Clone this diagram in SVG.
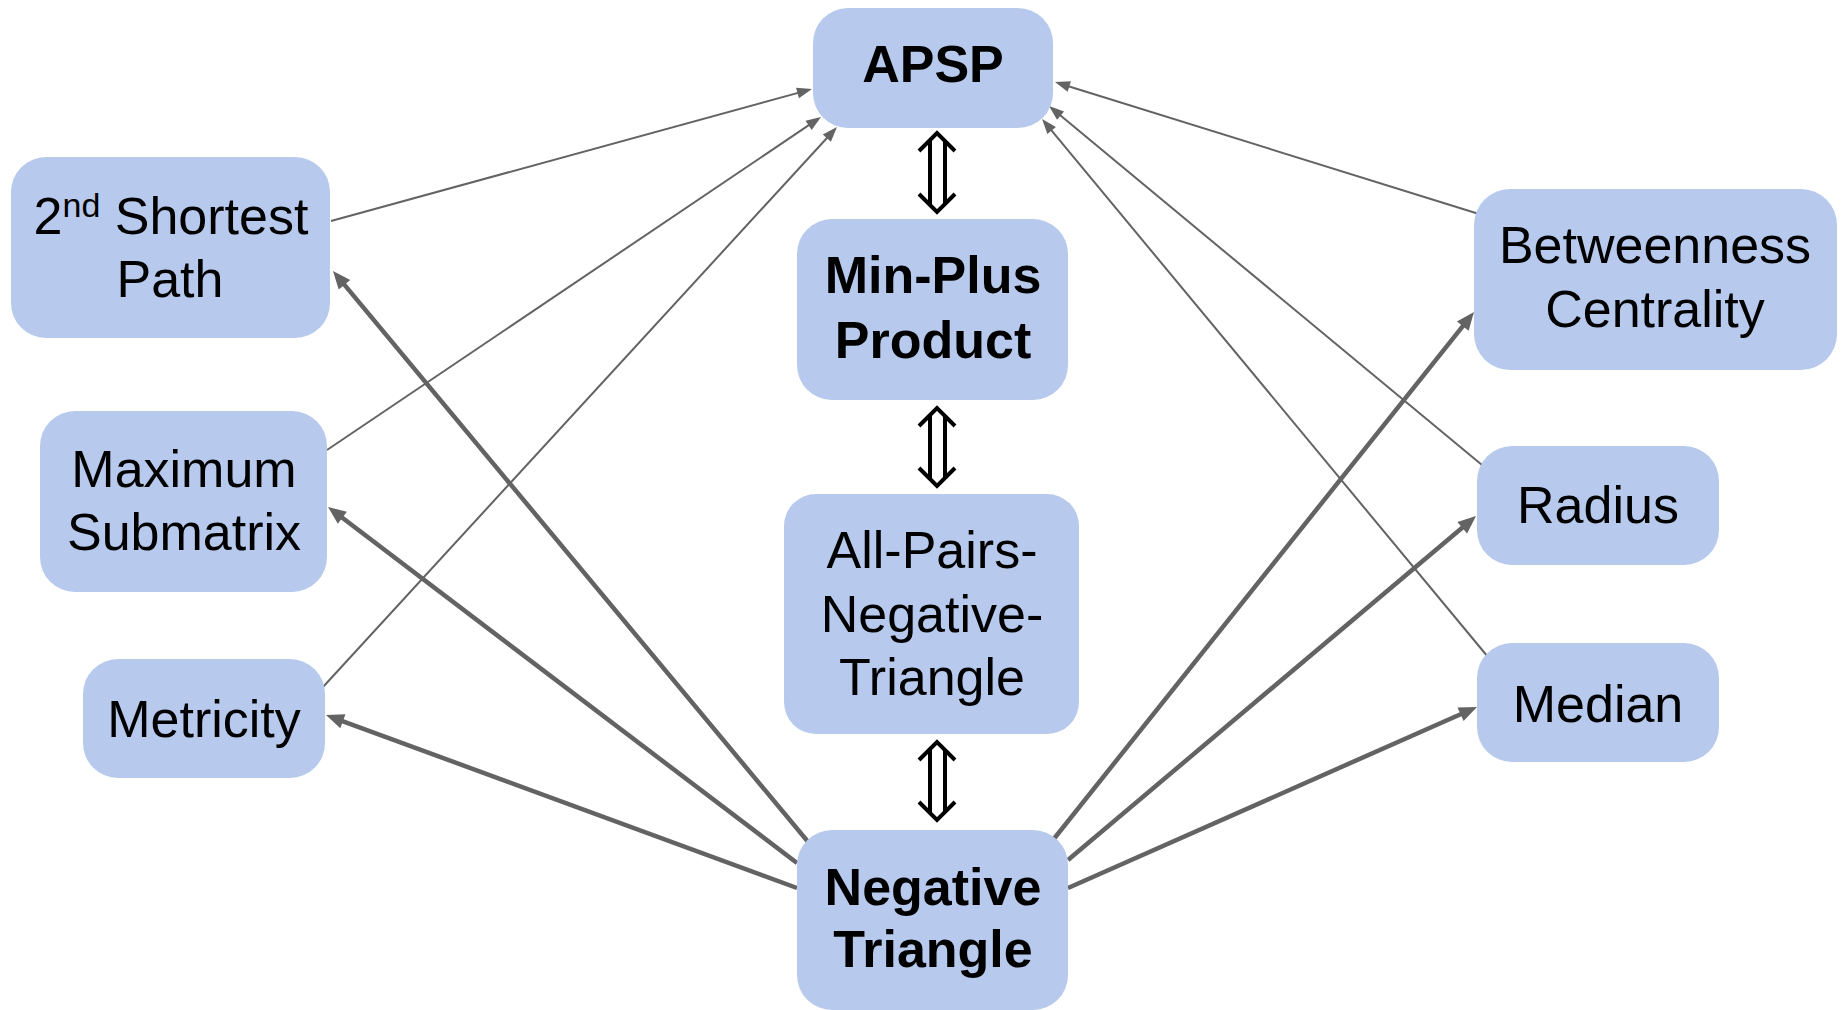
<svg xmlns="http://www.w3.org/2000/svg" width="1845" height="1010" viewBox="0 0 1845 1010">
<style>
  .box { fill: #b7caed; }
  .t { font-family: "Liberation Sans", Arial, sans-serif; font-size: 52px; fill: #000; text-anchor: middle; }
  .b { font-weight: bold; }
  .thin { stroke: #636363; stroke-width: 2; fill: none; marker-end: url(#ahThin); }
  .thick { stroke: #636363; stroke-width: 4.5; fill: none; marker-end: url(#ahThick); }
  .dbl { stroke: #000; stroke-width: 4; fill: none; stroke-linejoin: miter; }
</style>
<defs>
  <marker id="ahThin" markerUnits="userSpaceOnUse" markerWidth="15" markerHeight="11" refX="11" refY="5.5" orient="auto" overflow="visible">
    <path d="M0,0 L15,5.5 L0,11 z" fill="#636363"/>
  </marker>
  <marker id="ahThick" markerUnits="userSpaceOnUse" markerWidth="18" markerHeight="15" refX="10" refY="7.5" orient="auto" overflow="visible">
    <path d="M0,0 L18,7.5 L0,15 z" fill="#636363"/>
  </marker>
</defs>
<rect width="1845" height="1010" fill="#fff"/>

<g id="connectors">
  <!-- thin: reductions to APSP -->
  <line class="thin" x1="331" y1="221" x2="808.1" y2="90.1"/>
  <line class="thin" x1="327" y1="450" x2="817.7" y2="119.2"/>
  <line class="thin" x1="323" y1="687" x2="834.3" y2="130.0"/>
  <line class="thin" x1="1479" y1="214" x2="1058.8" y2="83.2"/>
  <line class="thin" x1="1482" y1="465" x2="1052.1" y2="108.6"/>
  <line class="thin" x1="1488" y1="657" x2="1044.6" y2="122.1"/>
  <!-- thick: from Negative Triangle -->
  <line class="thick" x1="809" y1="843" x2="338.1" y2="277.1"/>
  <line class="thick" x1="797" y1="863" x2="334.4" y2="511.8"/>
  <line class="thick" x1="797" y1="888" x2="333.5" y2="717.8"/>
  <line class="thick" x1="1053" y1="840" x2="1469.0" y2="318.3"/>
  <line class="thick" x1="1068" y1="860" x2="1469.9" y2="521.2"/>
  <line class="thick" x1="1068" y1="888" x2="1469.7" y2="710.2"/>
  <!-- equivalence double arrows -->
  <path class="dbl" d="M919,151 L937,133 L955,151 M930,140 V205 M945,141 V204 M919,194 L937,212 L955,194"/>
  <path class="dbl" d="M919,426 L937,408 L955,426 M930,415 V479 M945,416 V478 M919,468 L937,486 L955,468"/>
  <path class="dbl" d="M919,760 L937,742 L955,760 M930,749 V813 M945,750 V812 M919,802 L937,820 L955,802"/>
</g>

<g id="apsp">
  <rect class="box" x="813" y="8" width="240" height="120" rx="35"/>
  <text class="t b" x="933" y="82">APSP</text>
</g>
<g id="minplus">
  <rect class="box" x="797" y="219" width="271" height="181" rx="35"/>
  <text class="t b" x="933" y="293">Min-Plus</text>
  <text class="t b" x="933" y="358">Product</text>
</g>
<g id="allpairs">
  <rect class="box" x="784" y="494" width="295" height="240" rx="32"/>
  <text class="t" x="932" y="568">All-Pairs-</text>
  <text class="t" x="932" y="632">Negative-</text>
  <text class="t" x="932" y="695">Triangle</text>
</g>
<g id="negtri">
  <rect class="box" x="797" y="830" width="271" height="180" rx="35"/>
  <text class="t b" x="933" y="905">Negative</text>
  <text class="t b" x="933" y="967">Triangle</text>
</g>
<g id="second-shortest">
  <rect class="box" x="11" y="157" width="319" height="181" rx="35"/>
  <text class="t" x="171" y="234">2<tspan font-size="34" dy="-17">nd</tspan><tspan dy="17"> Shortest</tspan></text>
  <text class="t" x="170" y="297">Path</text>
</g>
<g id="maxsub">
  <rect class="box" x="40" y="411" width="287" height="181" rx="35"/>
  <text class="t" x="184" y="487">Maximum</text>
  <text class="t" x="184" y="550">Submatrix</text>
</g>
<g id="metricity">
  <rect class="box" x="83" y="659" width="242" height="119" rx="35"/>
  <text class="t" x="204" y="737">Metricity</text>
</g>
<g id="betweenness">
  <rect class="box" x="1474" y="189" width="363" height="181" rx="36"/>
  <text class="t" x="1655" y="263">Betweenness</text>
  <text class="t" x="1655" y="327">Centrality</text>
</g>
<g id="radius">
  <rect class="box" x="1477" y="446" width="242" height="119" rx="35"/>
  <text class="t" x="1598" y="523">Radius</text>
</g>
<g id="median">
  <rect class="box" x="1477" y="643" width="242" height="119" rx="35"/>
  <text class="t" x="1598" y="722">Median</text>
</g>
</svg>
